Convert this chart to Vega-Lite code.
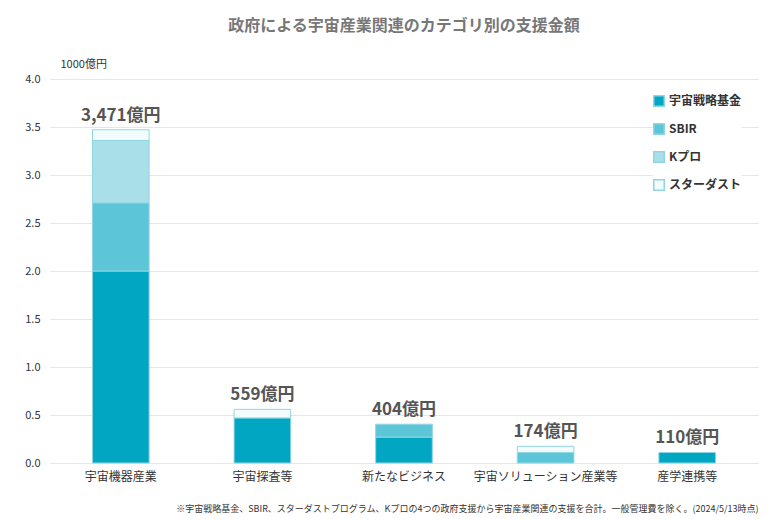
{
  "$schema": "https://vega.github.io/schema/vega-lite/v6.json",
  "autosize": {"type": "fit", "contains": "padding"},
  "width": 768,
  "height": 519,
  "padding": {"left": 24, "right": 10, "top": 18, "bottom": 6},
  "background": "white",
  "title": {
    "text": "政府による宇宙産業関連のカテゴリ別の支援金額",
    "font": "Noto Sans CJK JP",
    "fontSize": 16,
    "fontWeight": "bold",
    "color": "#777777",
    "anchor": "middle",
    "offset": 24
  },
  "datasets": {
    "parts": [
      {"cat": "宇宙機器産業", "src": "宇宙戦略基金", "o": 1, "v": 2.0},
      {"cat": "宇宙機器産業", "src": "SBIR", "o": 2, "v": 0.71},
      {"cat": "宇宙機器産業", "src": "Kプロ", "o": 3, "v": 0.65},
      {"cat": "宇宙機器産業", "src": "スターダスト", "o": 4, "v": 0.111},
      {"cat": "宇宙探査等", "src": "宇宙戦略基金", "o": 1, "v": 0.47},
      {"cat": "宇宙探査等", "src": "スターダスト", "o": 4, "v": 0.089},
      {"cat": "新たなビジネス", "src": "宇宙戦略基金", "o": 1, "v": 0.27},
      {"cat": "新たなビジネス", "src": "SBIR", "o": 2, "v": 0.134},
      {"cat": "宇宙ソリューション産業等", "src": "SBIR", "o": 2, "v": 0.11},
      {"cat": "宇宙ソリューション産業等", "src": "スターダスト", "o": 4, "v": 0.064},
      {"cat": "産学連携等", "src": "宇宙戦略基金", "o": 1, "v": 0.11}
    ],
    "totals": [
      {"cat": "宇宙機器産業", "t": 3.471, "label": "3,471億円"},
      {"cat": "宇宙探査等", "t": 0.559, "label": "559億円"},
      {"cat": "新たなビジネス", "t": 0.404, "label": "404億円"},
      {"cat": "宇宙ソリューション産業等", "t": 0.174, "label": "174億円"},
      {"cat": "産学連携等", "t": 0.11, "label": "110億円"}
    ]
  },
  "encoding": {
    "x": {
      "field": "cat",
      "type": "nominal",
      "sort": ["宇宙機器産業", "宇宙探査等", "新たなビジネス", "宇宙ソリューション産業等", "産学連携等"],
      "scale": {"paddingInner": 0.6, "paddingOuter": 0.3},
      "axis": {
        "labelAngle": 0,
        "labelFontSize": 12,
        "labelColor": "#333333",
        "labelPadding": 8,
        "ticks": false,
        "domain": false,
        "title": "※宇宙戦略基金、SBIR、スターダストプログラム、Kプロの4つの政府支援から宇宙産業関連の支援を合計。一般管理費を除く。(2024/5/13時点)",
        "titleFontSize": 9,
        "titleFontWeight": "normal",
        "titleColor": "#333333",
        "titleAnchor": "end",
        "titlePadding": 22
      }
    }
  },
  "layer": [
    {
      "data": {"name": "parts"},
      "mark": {"type": "bar", "stroke": "#8fd6e3", "strokeWidth": 1},
      "encoding": {
        "y": {
          "field": "v",
          "type": "quantitative",
          "aggregate": "sum",
          "scale": {"domain": [0, 4]},
          "axis": {
            "values": [0, 0.5, 1, 1.5, 2, 2.5, 3, 3.5, 4],
            "format": ".1f",
            "labelFontSize": 11,
            "labelColor": "#333333",
            "labelPadding": 10,
            "ticks": false,
            "domain": false,
            "gridColor": "#e6e6e6",
            "title": "1000億円",
            "titleAngle": 0,
            "titleFontSize": 11,
            "titleFontWeight": "normal",
            "titleColor": "#333333",
            "titleAlign": "left",
            "titleX": 10,
            "titleY": -10
          }
        },
        "color": {
          "field": "src",
          "type": "nominal",
          "scale": {
            "domain": ["宇宙戦略基金", "SBIR", "Kプロ", "スターダスト"],
            "range": ["#00a6c2", "#5cc5d8", "#a8dfe9", "#f4fbfd"]
          },
          "legend": {
            "orient": "top-right",
            "title": null,
            "symbolType": "square",
            "symbolSize": 110,
            "symbolStrokeColor": "#8fd6e3",
            "labelFontSize": 12,
            "labelFontWeight": "bold",
            "labelColor": "#333333",
            "rowPadding": 10,
            "offset": 16,
            "fillColor": "white"
          }
        },
        "order": {"field": "o", "type": "quantitative"}
      }
    },
    {
      "data": {"name": "totals"},
      "mark": {"type": "text", "dy": -14, "fontSize": 17, "fontWeight": "bold", "color": "#555555", "font": "Noto Sans CJK JP"},
      "encoding": {
        "y": {"field": "t", "type": "quantitative"},
        "text": {"field": "label"}
      }
    }
  ],
  "config": {
    "font": "Noto Sans CJK JP",
    "view": {"stroke": null}
  }
}
